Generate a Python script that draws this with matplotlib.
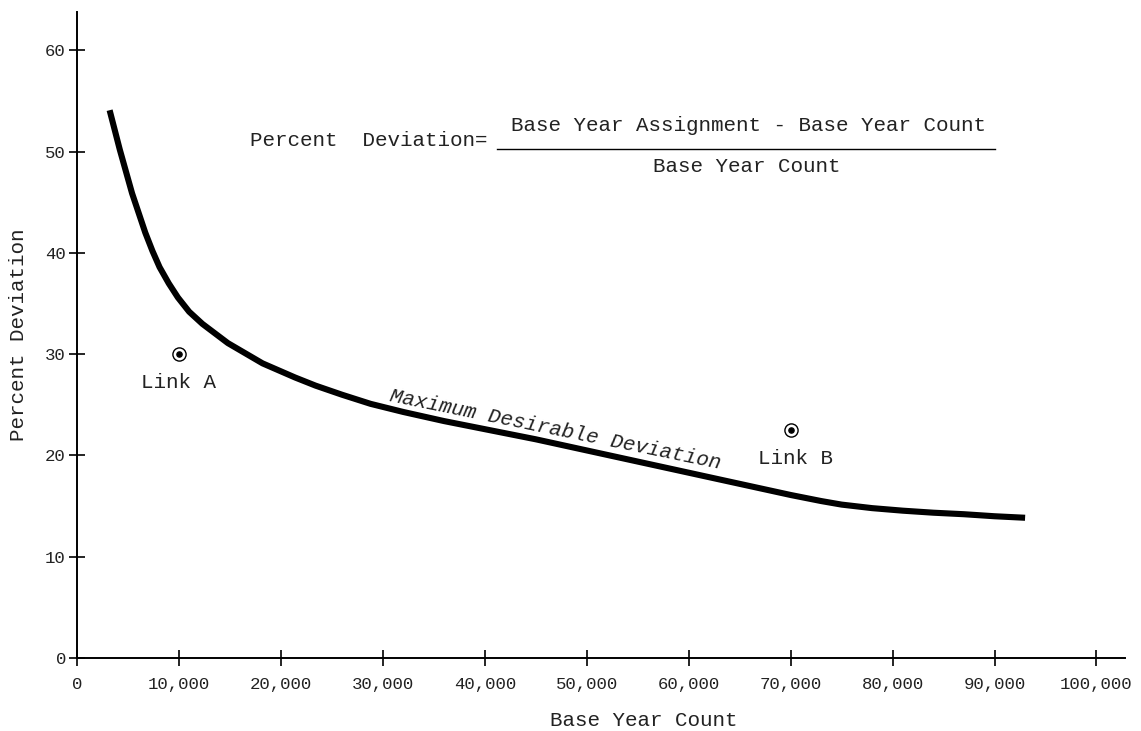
import matplotlib
matplotlib.use("Agg")
import matplotlib.pyplot as plt
from matplotlib.ticker import FuncFormatter

# ---- data ----
curve_x = [3200, 4200, 5400, 6700, 7400, 8100, 9000, 9900, 11000, 12300,
           14800, 18200, 21400, 23400, 26000, 28800, 32000, 36000, 40000,
           45000, 50000, 55000, 60000, 65000, 70000, 73000, 75000, 78000,
           81000, 84000, 87000, 90000, 93000]
curve_y = [54.1, 50.2, 45.9, 42.0, 40.2, 38.6, 37.0, 35.6, 34.2, 33.0,
           31.1, 29.1, 27.7, 26.9, 26.0, 25.1, 24.3, 23.4, 22.6,
           21.6, 20.5, 19.4, 18.3, 17.2, 16.1, 15.5, 15.15, 14.8,
           14.55, 14.35, 14.2, 14.0, 13.85]
link_names = ["Link A", "Link B"]
link_x = [10000, 70000]
link_y = [30.0, 22.5]
x_ticks = [0, 10000, 20000, 30000, 40000, 50000, 60000, 70000, 80000, 90000, 100000]
y_ticks = [0, 10, 20, 30, 40, 50, 60]

FONT = ["Liberation Mono", "DejaVu Sans Mono"]
plt.rcParams["font.family"] = FONT
TXT = "#222222"

fig = plt.figure(figsize=(11.41, 7.31), dpi=100)
ax = fig.add_axes([77 / 1141, 1 - 658 / 731, (1125 - 77) / 1141, (658 - 12) / 731])
ax.set_xlim(0, 102800)
ax.set_ylim(0, 63.8)

ax.plot(curve_x, curve_y, color="black", lw=4.4, solid_capstyle="butt",
        solid_joinstyle="round")

# link points: circle with dot
ax.scatter(link_x, link_y, s=90, facecolors="white", edgecolors="black",
           linewidths=1.0, zorder=3)
ax.scatter(link_x, link_y, s=14, color="black", zorder=4)
for name, lx, ly in zip(link_names, link_x, link_y):
    ax.text(lx + (0 if name == "Link A" else 500), ly - 2.8, name, ha="center",
            va="center", fontsize=15, color=TXT)

ax.text(46900, 22.6, "Maximum Desirable Deviation", rotation=-11.6,
        rotation_mode="anchor", ha="center", va="center", fontsize=15,
        style="italic", color=TXT)

# formula
ax.text(16980, 51.1, "Percent  Deviation=", ha="left", va="center",
        fontsize=15, color=TXT)
ax.plot([41220, 90090], [50.3, 50.3], color="black", lw=1.0)
ax.text(65900, 52.6, "Base Year Assignment - Base Year Count", ha="center",
        va="center", fontsize=15, color=TXT)
ax.text(65650, 48.5, "Base Year Count", ha="center", va="center",
        fontsize=15, color=TXT)

# axes styling
for s in ("top", "right"):
    ax.spines[s].set_visible(False)
for s in ("left", "bottom"):
    ax.spines[s].set_linewidth(1.4)
ax.set_xticks(x_ticks)
ax.set_yticks(y_ticks)
ax.xaxis.set_major_formatter(FuncFormatter(lambda v, p: "0" if v == 0 else f"{int(v):,}"))
ax.tick_params(axis="x", direction="inout", length=12, width=1.2, pad=8,
               labelsize=12.5, labelcolor=TXT)
ax.tick_params(axis="y", direction="inout", length=12, width=1.2, pad=2,
               labelsize=12.5, labelcolor=TXT)
ax.set_xlabel("Base Year Count", fontsize=15, color=TXT)
ax.xaxis.set_label_coords((644 - 77) / 1048, -(720 - 658) / 646, transform=ax.transAxes)
ax.xaxis.label.set_va("center")
ax.set_ylabel("Percent Deviation", fontsize=15, labelpad=12, color=TXT)

fig.savefig("out.png", dpi=100)
